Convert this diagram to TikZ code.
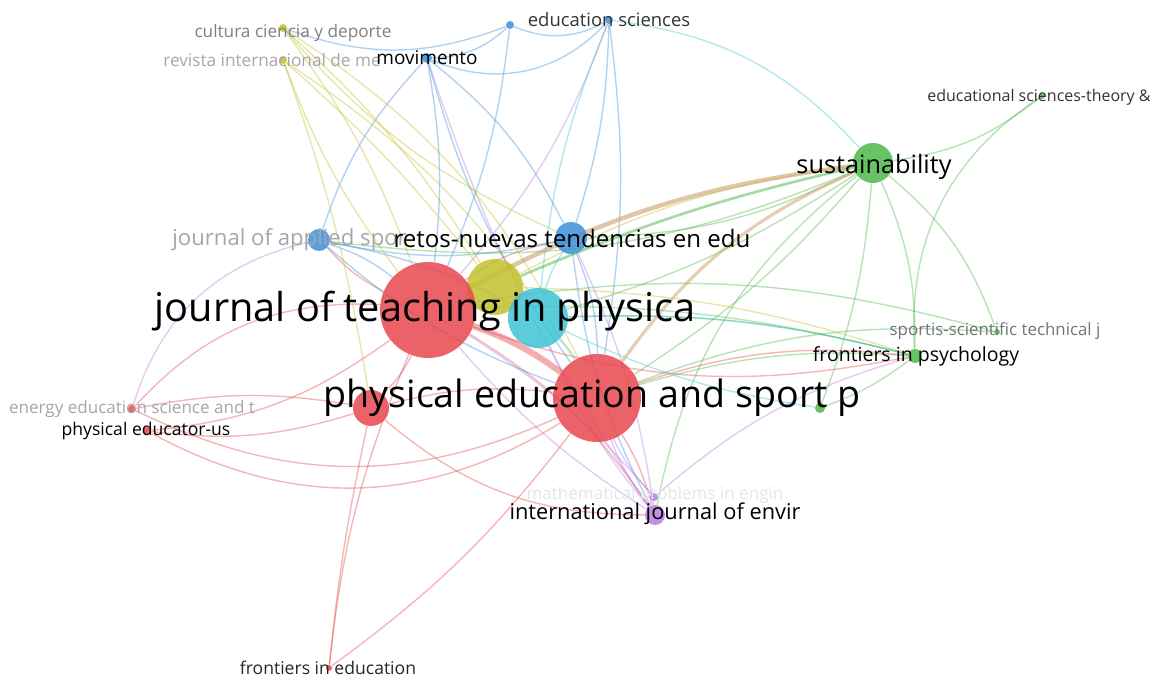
\documentclass[tikz,border=0pt]{standalone}
\usepackage{fontspec}
\setmainfont{Open Sans}
\usepackage{xcolor}
\usepackage{tikz}
\usetikzlibrary{backgrounds}

\definecolor{vosred}{HTML}{E8474E}
\definecolor{vosgreen}{HTML}{4CB848}
\definecolor{vosblue}{HTML}{3D8FDB}
\definecolor{vosyellow}{HTML}{C2C12E}
\definecolor{voscyan}{HTML}{3EC4D4}
\definecolor{vospurple}{HTML}{B47FE0}
\definecolor{vosbrown}{HTML}{C9A06A}

\begin{document}
\begin{tikzpicture}[x=0.02cm, y=-0.02cm,
    journal/.style 2 args={circle, inner sep=0pt, minimum size={0.04cm*#2}, fill=#1, fill opacity=0.85},
    link/.style={draw=#1, draw opacity=0.4, line width=0.8pt},
    lbl/.style={font=\fontsize{#1}{#1}\selectfont, inner sep=0pt, text=black},
    faint/.style={text=black!#1}]
    \useasboundingbox (0,0) rectangle (1156,679);

    % Journals
    \node [journal={vosred}{18}] (redj) at (371,408) {};
    \node [journal={vosyellow}{28}] (yellowj) at (495,287) {};
    \node [journal={vosred}{48}] (jtp) at (428,310) {};
    \node [journal={voscyan}{30}] (cyanj) at (538,318) {};
    \node [journal={vosred}{44}] (pesp) at (597,398) {};
    \node [journal={vosblue}{16}] (retos) at (571,238) {};
    \node [journal={vosblue}{11}] (applied) at (319,240) {};
    \node [journal={vosblue}{5}] (movimento) at (427,58) {};
    \node [journal={vosblue}{4}] (blueone) at (510,25) {};
    \node [journal={vosblue}{4}] (edusci) at (609,20) {};
    \node [journal={vosyellow}{4}] (cultura) at (283,28) {};
    \node [journal={vosyellow}{4}] (revista) at (283,60) {};
    \node [journal={vosgreen}{20}] (sust) at (873,163) {};
    \node [journal={vosgreen}{3}] (edtheory) at (1042,96) {};
    \node [journal={vosgreen}{3}] (sportis) at (997,332) {};
    \node [journal={vosgreen}{7}] (frpsy) at (915,356) {};
    \node [journal={vosgreen}{5}] (greensm) at (820,408) {};
    \node [journal={vosred}{4}] (energy) at (132,409) {};
    \node [journal={vosred}{4}] (physed) at (147,431) {};
    \node [journal={vospurple}{4}] (math) at (654,497) {};
    \node [journal={vospurple}{10}] (intenv) at (655,515) {};
    \node [journal={vosred}{3}] (fredu) at (329,668) {};

    % Links
    \begin{pgfonlayer}{background}
    \foreach \a/\b/\c/\d in {
        jtp/redj/vosred/10, pesp/redj/vosred/-10, energy/jtp/vosred/25,
        physed/pesp/vosred/-30, physed/jtp/vosred/-15, physed/redj/vosred/-12,
        energy/pesp/vosred/-25, energy/redj/vosred/10, fredu/jtp/vosred/8,
        fredu/redj/vosred/3, fredu/pesp/vosred/-8, jtp/frpsy/vosred/-15,
        pesp/frpsy/vosred/12, pesp/intenv/vosred/8, jtp/intenv/vosred/12,
        redj/intenv/vosred/-20, jtp/retos/vosred/12, jtp/applied/vosred/10,
        energy/applied/vospurple/30,
        movimento/applied/vosblue/-12, movimento/retos/vosblue/12,
        movimento/jtp/vosblue/8, movimento/pesp/vosblue/-10,
        movimento/blueone/vosblue/-20, blueone/edusci/vosblue/-25,
        movimento/edusci/vosblue/-35, edusci/retos/vosblue/8,
        edusci/pesp/vosblue/8, edusci/jtp/vospurple/10, blueone/jtp/vosblue/8,
        retos/applied/vosblue/12, applied/pesp/vosblue/-10, applied/jtp/vosblue/10,
        retos/pesp/vosblue/10, retos/intenv/vosblue/-10, applied/cyanj/vosblue/8,
        cultura/yellowj/vosyellow/8, cultura/jtp/vosyellow/8,
        revista/jtp/vosyellow/-8, revista/redj/vosyellow/5,
        revista/pesp/vosyellow/12, cultura/pesp/vosyellow/15,
        revista/yellowj/vosyellow/5, cultura/retos/vosyellow/-12,
        cultura/blueone/vosblue/-20, yellowj/sust/vosyellow/10,
        yellowj/frpsy/vosyellow/8,
        sust/edtheory/vosgreen/-15, sust/frpsy/vosgreen/12,
        sust/sportis/vosgreen/15, sust/greensm/vosgreen/8,
        sust/pesp/vosgreen/8, sust/retos/vosgreen/12, sust/applied/vosgreen/15,
        sust/cyanj/vosgreen/8, frpsy/pesp/vosgreen/-10, frpsy/jtp/vosgreen/-8,
        sportis/pesp/vosgreen/-12, frpsy/greensm/vosgreen/8,
        edtheory/frpsy/vosgreen/-30, sportis/jtp/vosgreen/-12,
        sust/intenv/vosgreen/-20, frpsy/cyanj/vosgreen/-8,
        edusci/sust/voscyan/20, cyanj/frpsy/voscyan/8, cyanj/pesp/voscyan/8,
        cyanj/retos/voscyan/8, cyanj/edusci/voscyan/8, cyanj/greensm/voscyan/-8,
        intenv/jtp/vospurple/8, intenv/pesp/vospurple/8,
        intenv/movimento/vospurple/8, intenv/retos/vospurple/-8,
        intenv/cyanj/vospurple/8, math/jtp/vospurple/-8,
        math/pesp/vospurple/8, math/frpsy/vospurple/12}
        \draw [link=\c] (\a) to[bend left=\d] (\b);
    \draw [vosred, draw opacity=0.45, line width=3.5pt] (jtp) to[bend left=8] (pesp);
    \draw [vosbrown, draw opacity=0.6, line width=2.5pt] (jtp) to[bend left=10] (sust);
    \draw [vosbrown, draw opacity=0.5, line width=1.8pt] (pesp) to[bend left=15] (sust);
    \draw [vosgreen, draw opacity=0.5, line width=1.5pt] (yellowj) to[bend left=5] (sust);
    \end{pgfonlayer}

    % Labels
    \node [lbl=9.8pt, faint=50] (cultura-t) at (293,33) {cultura ciencia y deporte};
    \node [lbl=9.8pt, faint=35, anchor=west] (revista-t) at (163,60) {revista internacional de me};
    \node [lbl=10.8pt] (movimento-t) at (427,58) {movimento};
    \node [lbl=10.5pt, faint=80] (edusci-t) at (609,20) {education sciences};
    \node [lbl=9.1pt, faint=80] (edtheory-t) at (1039,97) {educational sciences-theory \&};
    \node [lbl=14.4pt] (sust-t) at (874,167) {sustainability};
    \node [lbl=12.6pt, faint=35, anchor=west] (applied-t) at (172,240) {journal of applied spor};
    \node [lbl=13.7pt] (retos-t) at (572,238) {retos-nuevas tendencias en edu};
    \node [lbl=22.6pt] (jtp-t) at (425,311) {journal of teaching in physica};
    \node [lbl=9.6pt, faint=55] (sportis-t) at (995,331) {sportis-scientific technical j};
    \node [lbl=11.1pt] (frpsy-t) at (916,356) {frontiers in psychology};
    \node [lbl=21.4pt] (pesp-t) at (592,398) {physical education and sport p};
    \node [lbl=9.7pt, faint=35] (energy-t) at (132,409) {energy education science and t};
    \node [lbl=10pt] (physed-t) at (146,431) {physical educator-us};
    \node [lbl=9.7pt, faint=10] (math-t) at (655,495) {mathematical problems in engin};
    \node [lbl=12.4pt] (intenv-t) at (655,514) {international journal of envir};
    \node [lbl=10pt, faint=85] (fredu-t) at (328,668) {frontiers in education};
\end{tikzpicture}
\end{document}
